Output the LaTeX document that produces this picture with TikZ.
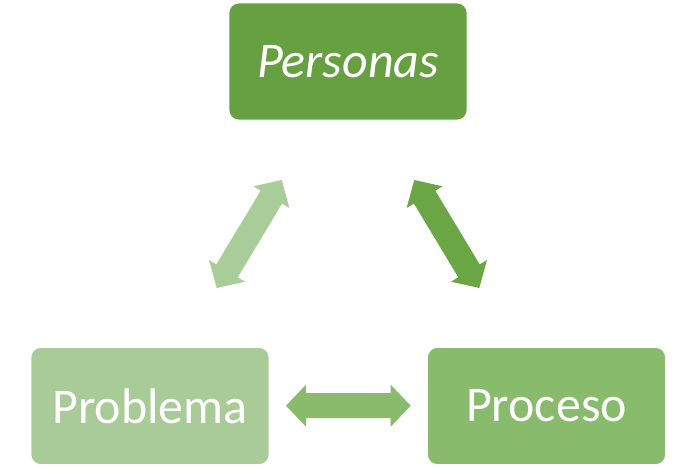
\documentclass[tikz,border=0pt]{standalone}
\usepackage{fontspec}
\setmainfont{Carlito}
\usetikzlibrary{calc}
\definecolor{cTop}{HTML}{66A041}
\definecolor{cRight}{HTML}{88BB6B}
\definecolor{cLeft}{HTML}{A9CB97}
\definecolor{aLeft}{HTML}{A9CD98}
\definecolor{aRight}{HTML}{6BA645}
\definecolor{aBottom}{HTML}{8ABB6C}
\newcommand{\blockdbl}[3]{%
  \path ($(#1)!20pt!(#2)$) coordinate (h1) ($(#2)!20pt!(#1)$) coordinate (h2);
  \fill[#3]
    (#1)
    -- ($(h1)!21pt!90:(#2)$)
    -- ($(h1)!12.5pt!90:(#2)$)
    -- ($(h2)!12.5pt!-90:(#1)$)
    -- ($(h2)!21pt!-90:(#1)$)
    -- (#2)
    -- ($(h2)!21pt!90:(#1)$)
    -- ($(h2)!12.5pt!90:(#1)$)
    -- ($(h1)!12.5pt!-90:(#2)$)
    -- ($(h1)!21pt!-90:(#2)$)
    -- cycle;}
\begin{document}
\begin{tikzpicture}[x=1pt,y=-1pt,
  box/.style={rounded corners=10pt, draw=white, line width=0.6pt, minimum width=238pt, minimum height=117pt, inner sep=0pt, text=white, font=\fontsize{50}{60}\selectfont}]
\useasboundingbox (0,0) rectangle (696,467);
\fill[white] (0,0) rectangle (696,467);
\node[box, fill=cTop, font=\fontsize{50}{60}\selectfont\itshape] (personas) at (348,61.5) {Personas};
\node[box, fill=cLeft] (problema) at (150,406) {Problema};
\node[box, fill=cRight] (proceso) at (546.5,406) {Proceso};
\coordinate (l1) at (216.7,288);
\coordinate (l2) at (281.7,180);
\coordinate (r1) at (414.3,180);
\coordinate (r2) at (479.3,288);
\coordinate (b1) at (286,405.7);
\coordinate (b2) at (410.7,405.7);
\blockdbl{l1}{l2}{aLeft}
\blockdbl{r1}{r2}{aRight}
\blockdbl{b1}{b2}{aBottom}
\end{tikzpicture}
\end{document}
